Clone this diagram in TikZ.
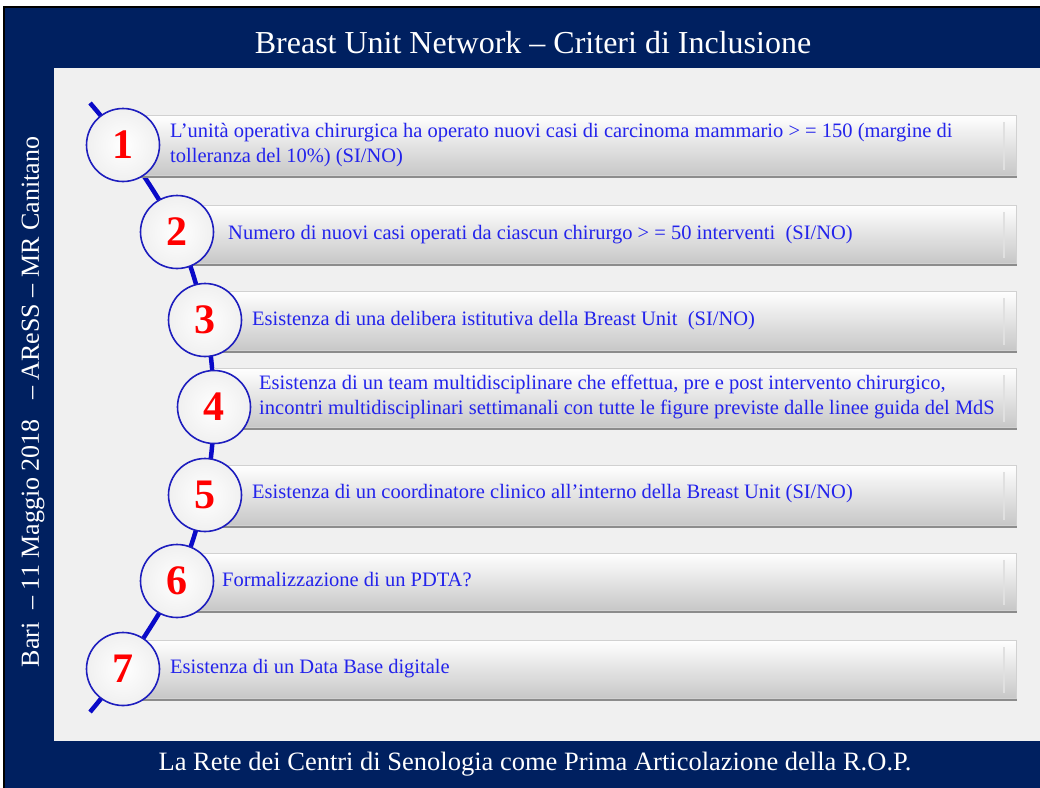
\documentclass[tikz,border=0pt]{standalone}
\usepackage{fontspec}
\setmainfont{Liberation Serif}
\usepackage{tikz}
\usetikzlibrary{calc,positioning}
\definecolor{navy}{RGB}{0,32,96}
\definecolor{panel}{RGB}{240,240,240}
\definecolor{itemblue}{RGB}{35,35,235}
\definecolor{ringblue}{RGB}{30,30,190}
\definecolor{spineblue}{RGB}{10,10,200}

\begin{document}
\begin{tikzpicture}[x=1pt,y=-1pt]
\tikzset{
  headtext/.style={text=white,inner sep=0pt,font=\fontsize{26.5}{26.5}\selectfont},
  bar/.style={anchor=north west,inner sep=0pt,rectangle,top color=white,bottom color=black!22,draw=black!18,line width=0.6pt},
  numdot/.style={circle,draw=ringblue,line width=1.6pt,inner sep=0pt,minimum size=73pt,inner color=white,outer color=black!6,text=red,font=\fontsize{42}{42}\selectfont\bfseries},
  itemtext/.style={anchor=west,align=left,inner sep=0pt,text=itemblue,font=\fontsize{20.5}{24.5}\selectfont},
  spine/.style={spineblue,line width=4.5pt}
}
\useasboundingbox (0,0) rectangle (1040,787);
\fill[white] (0,0) rectangle (1040,787);
\filldraw[fill=navy,draw=black,line width=2pt] (4,7) rectangle (1044,791);
\fill[panel] (54,68) rectangle (1040,741);

% frame texts
\node[headtext,font=\fontsize{32}{32}\selectfont] (title) at (533,43) {Breast Unit Network – Criteri di Inclusione};
\node[headtext] (footer) at (535,764) {La Rete dei Centri di Senologia come Prima Articolazione della R.O.P.};
\node[headtext,font=\fontsize{26}{26}\selectfont,rotate=90] (side) at (33,402) {Bari~~– 11 Maggio 2018~~~– AReSS – MR Canitano};

% path of the steps
\foreach \x/\y [count=\i] in {123/145,177/232,205/320,214/407,205/495,177/581,123/669}
  \coordinate (p\i) at (\x,\y);
\coordinate (start) at (90,103);
\coordinate (stop) at (90,712);
\draw[spine] plot[smooth,tension=0.55] coordinates {(start) (p1) (p2) (p3) (p4) (p5) (p6) (p7) (stop)};

% bars
\foreach \x/\t/\b [count=\i] in {123/115/175,177/205/263,205/291/350,214/368/427,205/465/525,177/553/610,123/640/698} {
  \fill[black!45] (\x,\b-2) rectangle (1017,\b+3);
  \node[bar,minimum width={(1016-\x)*1pt},minimum height={(\b-\t)*1pt}] (bar\i) at (\x,\t) {};
  \draw[black!12,line width=1.2pt] (1004,\t+7) -- (1004,\b-5);
}

% texts
\foreach \i/\x/\y/\txt in {
  1/170/145/{L’unità operativa chirurgica ha operato nuovi casi di carcinoma mammario > = 150 (margine di\\tolleranza del 10\%) (SI/NO)},
  2/228/235/{Numero di nuovi casi operati da ciascun chirurgo > = 50 interventi~~(SI/NO)},
  3/252/321/{Esistenza di una delibera istitutiva della Breast Unit~~(SI/NO)},
  4/259/397/{Esistenza di un team multidisciplinare che effettua, pre e post intervento chirurgico,\\incontri multidisciplinari settimanali con tutte le figure previste dalle linee guida del MdS},
  5/252/494/{Esistenza di un coordinatore clinico all’interno della Breast Unit (SI/NO)},
  6/222/580/{Formalizzazione di un PDTA?},
  7/170/669/{Esistenza di un Data Base digitale}}
  \node[itemtext] (txt\i) at (\x,\y) {\txt};

% numbered circles
\foreach \i in {1,...,7}
  \node[numdot] (num\i) at (p\i) {\i};

\end{tikzpicture}
\end{document}
